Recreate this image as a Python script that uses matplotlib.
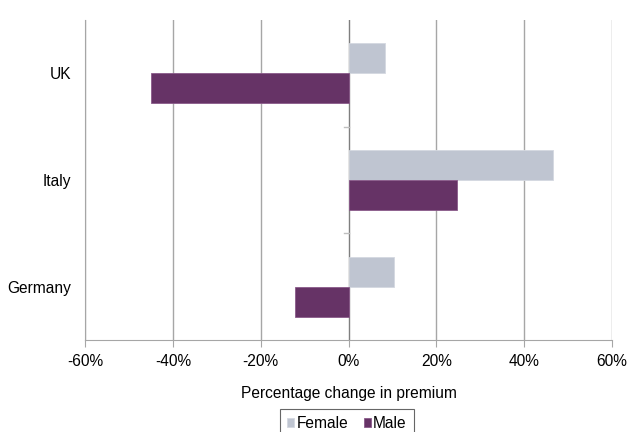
import matplotlib
matplotlib.use("Agg")
import matplotlib.pyplot as plt
import numpy as np
from matplotlib.ticker import FuncFormatter

plt.rcParams['font.family'] = ['Liberation Sans', 'DejaVu Sans']

countries = ["UK", "Italy", "Germany"]
female = [8.2, 46.5, 10.3]
male = [-45.0, 24.6, -12.1]
xticks = [-60, -40, -20, 0, 20, 40, 60]

female_col = "#bfc5d1"
male_col = "#663366"
grid_col = "#a6a6a6"
fs = 11.2

fig = plt.figure(figsize=(6.27, 4.32), dpi=100)
ax = fig.add_axes([85/627, 92/432, 527/627, 320/432])

y = np.arange(len(countries))
h = 0.28
ax.barh(y - h/2, female, height=h, color=female_col, edgecolor="#d4d8e0", linewidth=0.6, label="Female", zorder=3)
ax.barh(y + h/2, male, height=h, color=male_col, edgecolor="#8a5a8a", linewidth=0.6, label="Male", zorder=3)

ax.set_xlim(-60, 60)
ax.set_ylim(2.5, -0.5)
ax.set_xticks(xticks)
ax.xaxis.set_major_formatter(FuncFormatter(lambda v, p: f"{v:.0f}%"))
ax.set_yticks(y)
ax.set_yticklabels(countries)

# vertical gridlines, zero line a bit darker
for v in xticks:
    ax.axvline(v, color=grid_col if v else "#7f7f7f", lw=1, zorder=1)

# category separators sitting on the zero axis
for b in [0.5, 1.5]:
    ax.plot([-1, 0], [b, b], color="#bfbfbf", lw=1, zorder=2)

for s in ["top", "right"]:
    ax.spines[s].set_visible(False)
ax.spines["left"].set_color(grid_col)
ax.spines["bottom"].set_color(grid_col)
ax.tick_params(axis="x", length=5, color=grid_col, labelsize=fs, pad=5)
ax.tick_params(axis="y", length=0, labelsize=fs, pad=10)

ax.set_xlabel("Percentage change in premium", fontsize=fs, labelpad=12)

leg = fig.legend(loc="upper center", bbox_to_anchor=(347/627, 1 - 409/432), ncol=2,
                 fontsize=fs, frameon=True, fancybox=False, handlelength=0.45,
                 handleheight=0.45, handletextpad=0.15, columnspacing=1.0,
                 borderpad=0.45, borderaxespad=0)
leg.get_frame().set_edgecolor("#404040")
leg.get_frame().set_linewidth(0.8)

fig.savefig("out.png", dpi=100)
